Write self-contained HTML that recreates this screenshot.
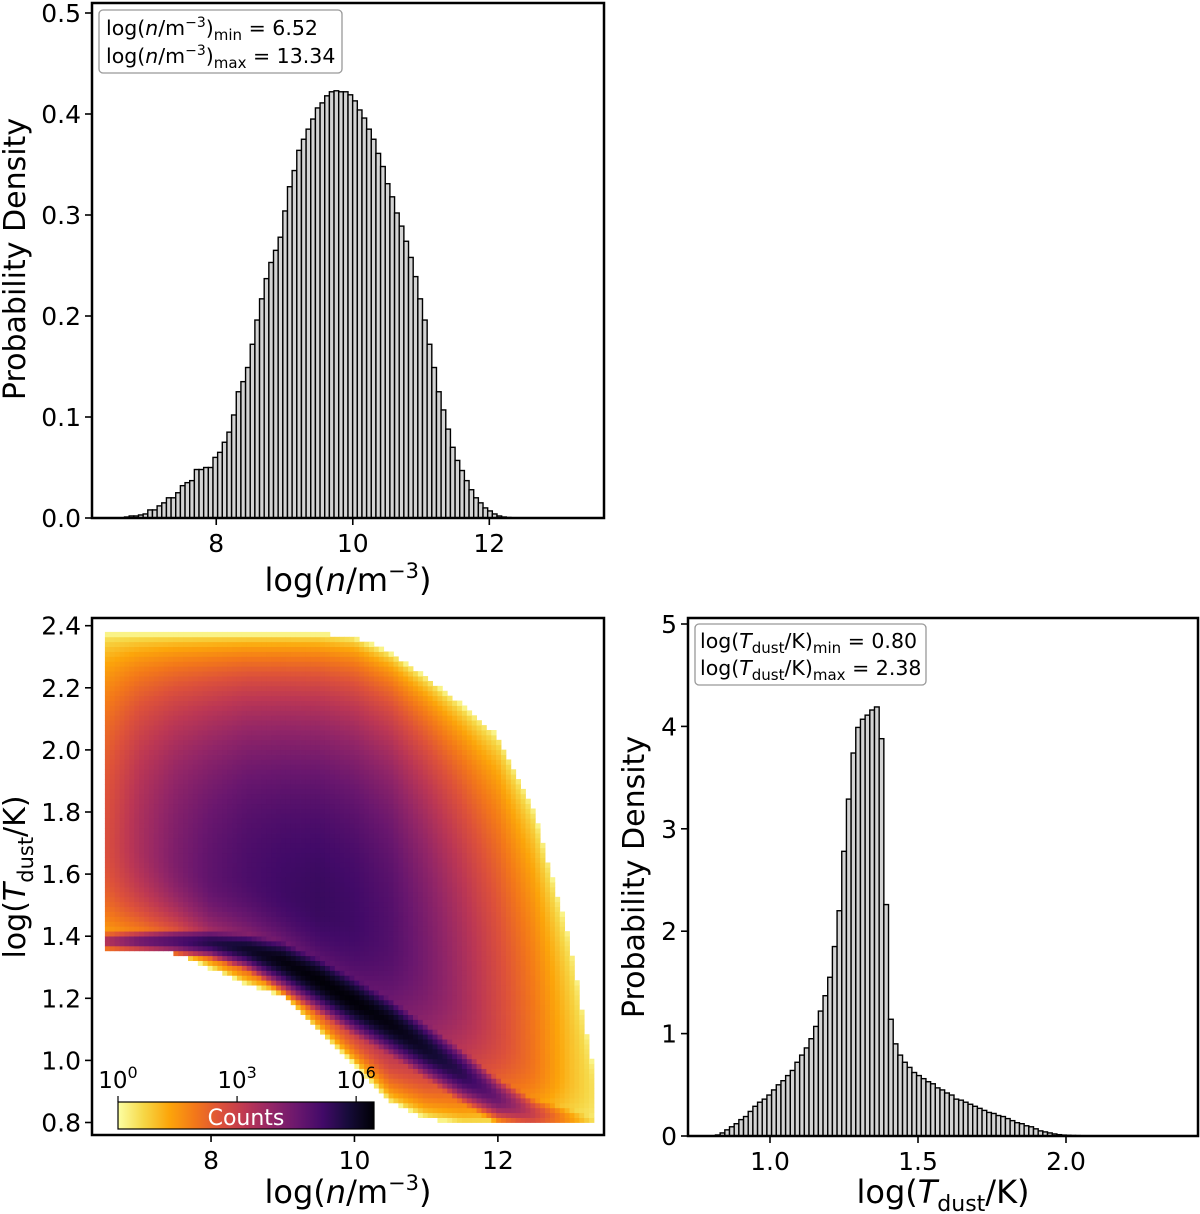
<!DOCTYPE html>
<html><head><meta charset="utf-8">
<style>
html,body{margin:0;padding:0;background:#fff;}
svg{display:block;font-family:"DejaVu Sans","Liberation Sans",sans-serif;}
</style></head>
<body>
<svg id="fig" width="1200" height="1214" viewBox="0 0 1200 1214" xmlns="http://www.w3.org/2000/svg">
<g id="gA"></g>
<g id="gC"></g>
<g id="gB"></g>
</svg>
<script>
// ---- data: density histogram (log n), 100 bins 6.52..13.34
const nHistMin = 6.52;
const nHistMax = 13.34;
const nHistValues = [0,0,0.001,0.002,0.002,0.003,0.004,0.008,0.008,0.012,0.015,0.02,0.02,0.025,0.032,0.035,0.037,0.048,0.048,0.05,0.05,0.06,0.065,0.075,0.085,0.102,0.125,0.135,0.149,0.172,0.196,0.217,0.237,0.253,0.265,0.278,0.304,0.328,0.344,0.364,0.375,0.385,0.395,0.406,0.411,0.418,0.422,0.423,0.422,0.422,0.419,0.413,0.404,0.396,0.385,0.375,0.361,0.348,0.331,0.318,0.302,0.289,0.274,0.258,0.239,0.217,0.196,0.172,0.149,0.125,0.107,0.088,0.07,0.057,0.047,0.037,0.028,0.02,0.015,0.01,0.007,0.004,0.002,0.001,0.0005,0.0003,0.0002,0.0001,0,0,0,0,0,0,0,0,0,0,0,0];
const nYTicks = [0.0,0.1,0.2,0.3,0.4,0.5];
const nYTickLabels = ["0.0","0.1","0.2","0.3","0.4","0.5"];
const nXTicks = [8,10,12];
const nXTickLabels = ["8","10","12"];

// ---- data: dust temperature histogram, 100 bins 0.80..2.38
const tHistMin = 0.80;
const tHistMax = 2.38;
const tHistValues = [0,0.01,0.03,0.06,0.09,0.12,0.16,0.19,0.24,0.29,0.33,0.36,0.40,0.45,0.50,0.54,0.59,0.64,0.72,0.79,0.86,0.95,1.07,1.22,1.37,1.55,1.85,2.20,2.78,3.29,3.74,3.99,4.07,4.11,4.16,4.19,3.88,2.26,1.14,0.90,0.79,0.72,0.67,0.62,0.59,0.56,0.53,0.51,0.47,0.45,0.42,0.40,0.36,0.35,0.33,0.31,0.29,0.27,0.25,0.23,0.22,0.20,0.19,0.17,0.15,0.13,0.12,0.10,0.09,0.07,0.05,0.04,0.03,0.02,0.013,0.009,0.007,0.005,0.004,0.003,0.002,0.002,0.001,0.001,0,0,0,0,0,0,0,0,0,0,0,0,0,0,0,0];
const tYTicks = [0,1,2,3,4,5];
const tYTickLabels = ["0","1","2","3","4","5"];
const tXTicks = [1.0,1.5,2.0];
const tXTickLabels = ["1.0","1.5","2.0"];

// ---- data: 2D histogram profile per density column
const hmN = [6.52,7.0,7.5,8.0,8.5,9.0,9.5,10.0,10.5,11.0,11.5,12.0,12.5,13.0,13.34];
const hmTop = [2.37,2.37,2.37,2.37,2.37,2.37,2.37,2.36,2.31,2.23,2.14,2.04,1.80,1.38,0.95];
const hmBottom = [1.36,1.36,1.35,1.30,1.25,1.21,1.10,0.99,0.87,0.82,0.80,0.80,0.80,0.80,0.80];
const hmRidgeT = [1.385,1.385,1.385,1.38,1.36,1.32,1.26,1.19,1.12,1.04,0.96,0.88,0.83,0.81,0.80];
const hmRidgeW = [0.025,0.025,0.03,0.035,0.045,0.06,0.07,0.075,0.075,0.07,0.065,0.055,0.05,0.05,0.05];
const hmRidgeLog = [3.5,4.5,5.0,5.6,6.0,6.3,6.4,6.4,6.3,6.0,5.5,4.5,3.0,1.5,0.5];
const hmFieldLog = [2.6,3.5,4.2,4.7,5.0,5.2,5.3,5.2,4.9,4.3,3.6,2.8,2.0,1.0,0.5];
const hmFieldT = [1.7,1.7,1.65,1.6,1.6,1.55,1.5,1.45,1.4,1.3,1.2,1.1,1.0,0.95,0.9];
const hmYTicks = [0.8,1.0,1.2,1.4,1.6,1.8,2.0,2.2,2.4];
const hmYTickLabels = ["0.8","1.0","1.2","1.4","1.6","1.8","2.0","2.2","2.4"];
const cbTicks = [0,3,6];
const cbTickLabels = ["0","3","6"];

const NS="http://www.w3.org/2000/svg";
function mk(tag, attrs, parent){const e=document.createElementNS(NS,tag);for(const k in attrs)e.setAttribute(k,attrs[k]);parent.appendChild(e);return e;}
function txt(parent, x, y, html, size, anchor, extra){const t=document.createElementNS(NS,'text');t.setAttribute('x',x);t.setAttribute('y',y);t.setAttribute('font-size',size);t.setAttribute('text-anchor',anchor||'middle');if(extra)for(const k in extra)t.setAttribute(k,extra[k]);t.innerHTML=html;parent.appendChild(t);return t;}

const A={x0:92,x1:604,y0:3,y1:518,xmin:6.18,xmax:13.68};
const Ax=v=>A.x0+(v-A.xmin)/(A.xmax-A.xmin)*(A.x1-A.x0);
const Ay=v=>518-v*1010;
const C={x0:92,x1:604,y0:618,y1:1135,xmin:6.34,xmax:13.48};
const Cx=v=>C.x0+(v-C.xmin)/(C.xmax-C.xmin)*(C.x1-C.x0);
const Cy=v=>1122.5-(v-0.8)*310.5;
const B={x0:688,x1:1198,y0:618,y1:1136};
const Bx=v=>770+(v-1)*296;
const By=v=>1136-v*102.4;

function hist(g, vals, lo, hi, sx, sy, name){
  const w=(hi-lo)/vals.length;
  vals.forEach((v,i)=>{
    const xa=sx(lo+i*w), xb=sx(lo+(i+1)*w);
    const r=mk('rect',{x:xa,y:sy(v),width:xb-xa,height:sy(0)-sy(v),fill:'#d3d3d3',stroke:'#000','stroke-width':1.4},g);
    
    
  });
}
function frame(g, ax, name){
  const r=mk('rect',{x:ax.x0,y:ax.y0,width:ax.x1-ax.x0,height:ax.y1-ax.y0,fill:'none',stroke:'#000','stroke-width':2.5},g);
  
  
}
function xticks(g, ticks, labels, sx, ybot){
  ticks.forEach((t,i)=>{
    mk('line',{x1:sx(t),x2:sx(t),y1:ybot,y2:ybot+7,stroke:'#000','stroke-width':1.6},g);
    const l=txt(g,sx(t),ybot+34,labels[i],25,'middle');
    
    
  });
}
function yticks(g, ticks, labels, sy, xl){
  ticks.forEach((t,i)=>{
    mk('line',{x1:xl,x2:xl-7,y1:sy(t),y2:sy(t),stroke:'#000','stroke-width':1.6},g);
    const l=txt(g,xl-11,sy(t)+9,labels[i],25,'end');
    
    
  });
}

// ---------- Panel A
const gA=document.getElementById('gA');
hist(gA,nHistValues,nHistMin,nHistMax,Ax,Ay,'density');
frame(gA,A,'density-histogram');
xticks(gA,nXTicks,nXTickLabels,Ax,A.y1);
yticks(gA,nYTicks,nYTickLabels,Ay,A.x0);
let t=txt(gA,348,591,'log(<tspan font-style="italic">n</tspan>/m<tspan font-size="21" dy="-13">−3</tspan><tspan dy="13">)</tspan>',32,'middle');

t=txt(gA,0,0,'Probability Density',30,'middle',{transform:'translate(25,259) rotate(-90)'});

let lg=mk('g',{},gA);
mk('rect',{x:99,y:10,width:243,height:63,rx:4,fill:'#fff',stroke:'#999','stroke-width':1.3},lg);
txt(lg,106,35,'log(<tspan font-style="italic">n</tspan>/m<tspan font-size="14" dy="-8">−3</tspan><tspan dy="8">)</tspan><tspan font-size="15" dy="5">min</tspan><tspan dy="-5"> = 6.52</tspan>',20.5,'start');
txt(lg,106,63,'log(<tspan font-style="italic">n</tspan>/m<tspan font-size="14" dy="-8">−3</tspan><tspan dy="8">)</tspan><tspan font-size="15" dy="5">max</tspan><tspan dy="-5"> = 13.34</tspan>',20.5,'start');

// ---------- Panel B
const gB=document.getElementById('gB');
hist(gB,tHistValues,tHistMin,tHistMax,Bx,By,'temperature');
frame(gB,B,'temperature-histogram');
xticks(gB,tXTicks,tXTickLabels,Bx,B.y1);
yticks(gB,tYTicks,tYTickLabels,By,B.x0);
t=txt(gB,943,1203,'log(<tspan font-style="italic">T</tspan><tspan font-size="22" dy="8">dust</tspan><tspan dy="-8">/K)</tspan>',32,'middle');

t=txt(gB,0,0,'Probability Density',30,'middle',{transform:'translate(644,877) rotate(-90)'});

lg=mk('g',{},gB);
mk('rect',{x:695,y:624,width:231,height:61,rx:4,fill:'#fff',stroke:'#999','stroke-width':1.3},lg);
txt(lg,700,648,'log(<tspan font-style="italic">T</tspan><tspan font-size="15" dy="5">dust</tspan><tspan dy="-5">/K)</tspan><tspan font-size="15" dy="5">min</tspan><tspan dy="-5"> = 0.80</tspan>',20.5,'start');
txt(lg,700,675,'log(<tspan font-style="italic">T</tspan><tspan font-size="15" dy="5">dust</tspan><tspan dy="-5">/K)</tspan><tspan font-size="15" dy="5">max</tspan><tspan dy="-5"> = 2.38</tspan>',20.5,'start');

// ---------- Panel C heatmap
const infStops=[[0,0,0,4],[0.1,22,11,57],[0.2,66,10,104],[0.3,106,23,110],[0.4,147,38,103],[0.5,188,55,84],[0.6,221,81,58],[0.7,243,120,25],[0.8,252,165,10],[0.9,246,215,70],[1,252,255,164]];
function inferno(f){f=Math.max(0,Math.min(1,f));for(let i=1;i<infStops.length;i++){if(f<=infStops[i][0]){const a=infStops[i-1],b=infStops[i],u=(f-a[0])/(b[0]-a[0]);return 'rgb('+[1,2,3].map(k=>Math.round(a[k]+(b[k]-a[k])*u)).join(',')+')';}}return 'rgb(252,255,164)';}
function interp(arr,n){if(n<=hmN[0])return arr[0];for(let i=1;i<hmN.length;i++){if(n<=hmN[i]){const u=(n-hmN[i-1])/(hmN[i]-hmN[i-1]);return arr[i-1]+(arr[i]-arr[i-1])*u;}}return arr[arr.length-1];}
const gC=document.getElementById('gC');
const LMAX=6.45;
const NX=100,NY=100,nLo=6.52,nHi=13.34,tLo=0.80,tHi=2.38;
const dn=(nHi-nLo)/NX, dt=(tHi-tLo)/NY;
for(let i=0;i<NX;i++){
  const n=nLo+(i+0.5)*dn;
  const top=interp(hmTop,n),bot=interp(hmBottom,n),rT=interp(hmRidgeT,n),rW=interp(hmRidgeW,n),rL=interp(hmRidgeLog,n),fL=interp(hmFieldLog,n),fT=interp(hmFieldT,n);
  for(let j=0;j<NY;j++){
    const T=tLo+(j+0.5)*dt;
    if(T>top+0.005||T<bot-0.005)continue;
    const span=T>fT?(top-fT):(fT-bot);
    const u=Math.min(1,Math.abs(T-fT)/Math.max(span,0.02));
    const field=0.2+(fL-0.2)*Math.pow(1-u*u,0.6);
    const d=(T-rT)/rW;
    const ridge=rL-d*d*1.6;
    const lc=Math.max(field,ridge,0);
    const x0=Cx(nLo+i*dn),x1=Cx(nLo+(i+1)*dn),y0=Cy(T+dt/2),y1=Cy(T-dt/2);
    const r=mk('rect',{x:x0.toFixed(2),y:y0.toFixed(2),width:(x1-x0+0.4).toFixed(2),height:(y1-y0+0.4).toFixed(2),fill:inferno(1-lc/LMAX)},gC);
    
    
  }
}
frame(gC,C,'heatmap');
xticks(gC,nXTicks,nXTickLabels,Cx,C.y1);
yticks(gC,hmYTicks,hmYTickLabels,Cy,C.x0);
t=txt(gC,348,1203,'log(<tspan font-style="italic">n</tspan>/m<tspan font-size="21" dy="-13">−3</tspan><tspan dy="13">)</tspan>',32,'middle');

t=txt(gC,0,0,'log(<tspan font-style="italic">T</tspan><tspan font-size="21" dy="8">dust</tspan><tspan dy="-8">/K)</tspan>',30,'middle',{transform:'translate(25,877) rotate(-90)'});

// colorbar
const cb=mk('g',{},gC);
const defs=mk('defs',{},cb);
const lgd=mk('linearGradient',{id:'cbg',x1:0,x2:1,y1:0,y2:0},defs);
for(let k=0;k<=20;k++){mk('stop',{offset:k/20,'stop-color':inferno(1-k/20)},lgd);}
const cbx0=118,cbx1=374,cby0=1102,cby1=1129;
const cbX=v=>cbx0+v/LMAX*(cbx1-cbx0);
mk('rect',{x:cbx0,y:cby0,width:cbx1-cbx0,height:cby1-cby0,fill:'url(#cbg)',stroke:'#000','stroke-width':1.2},cb);
cbTicks.forEach((v,i)=>{
  mk('line',{x1:cbX(v),x2:cbX(v),y1:cby0,y2:cby0-6,stroke:'#000','stroke-width':1.2},cb);
  const l=txt(cb,cbX(v),cby0-14,'10<tspan font-size="16" dy="-10">'+cbTickLabels[i]+'</tspan>',23,'middle');
  
  
});
t=txt(cb,246,1125,'Counts',22,'middle',{fill:'#fff'});

</script>
</body></html>
